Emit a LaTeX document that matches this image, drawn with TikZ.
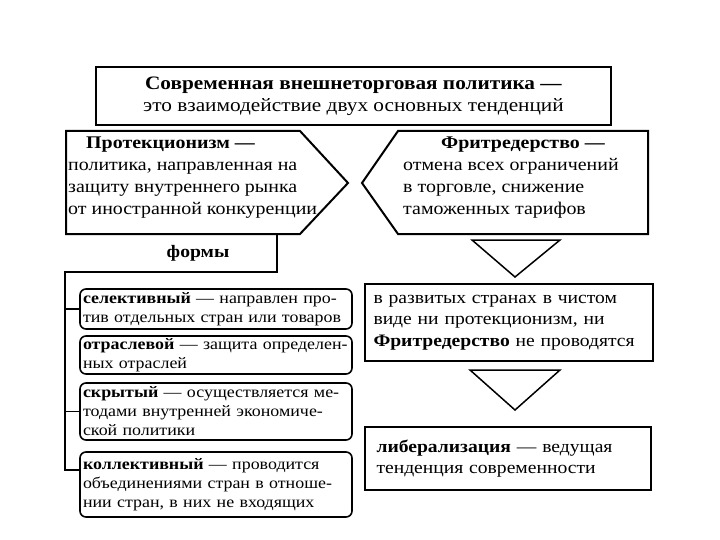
\documentclass[tikz,border=0pt]{standalone}
\usepackage{fontspec}
\setmainfont[FakeStretch=1.12]{Liberation Serif}
\begin{document}
\begin{tikzpicture}[x=1pt,y=-1pt,
  bigbox/.style={draw, line width=2.5pt, inner sep=0pt},
  plainbox/.style={draw, line width=2pt, inner sep=0pt},
  formbox/.style={draw, line width=1.6pt, rounded corners=6pt, inner xsep=3pt, inner ysep=0pt,
     minimum width=272pt, text width=266pt, align=left, font=\fontsize{16}{19}\selectfont},
  shapeline/.style={line width=2pt, line join=miter},
  tri/.style={line width=1.5pt},
  tree/.style={line width=1.5pt},
  txt/.style={inner sep=0pt, align=left}]
\fill[white] (0,0) rectangle (720,540);
\useasboundingbox (0,0) rectangle (720,540);

% top box
\node[bigbox, minimum width=515pt, minimum height=58pt, align=center,
  font=\fontsize{19}{22}\selectfont] (top) at (353.5,96)
  {\textbf{Современная внешнеторговая политика —}\\это взаимодействие двух основных тенденций};

% protectionism pentagon
\draw[shapeline] (66,131) -- (300,131) -- (348,183) -- (300,234) -- (66,234) -- cycle;
\node[txt, anchor=west, font=\fontsize{17.8}{22}\selectfont] (prot) at (68,178)
  {\hspace*{18pt}\textbf{Протекционизм —}\\политика, направленная на\\защиту внутреннего рынка\\от иностранной конкуренции};

% free trade pentagon
\draw[shapeline] (398,131) -- (648,131) -- (648,234) -- (398,234) -- (362,183) -- cycle;
\node[txt, anchor=west, font=\fontsize{17.8}{22}\selectfont] (free) at (403,178)
  {\hspace*{38pt}\textbf{Фритредерство —}\\отмена всех ограничений\\в торговле, снижение\\таможенных тарифов};

% forms label and tree
\node[txt, font=\fontsize{17.5}{20}\selectfont\bfseries] (formy) at (198,253) {формы};
\coordinate (fr) at (277,234);
\coordinate (fc) at (277,272);
\coordinate (tl) at (65,272);
\coordinate (tb) at (65,470);

\node[formbox, minimum height=40pt] (f1) at (216,309)
  {\textbf{селективный} — направлен про-\\тив отдельных стран или товаров};
\node[formbox, minimum height=38pt] (f2) at (216,355)
  {\textbf{отраслевой} — защита определен-\\ных отраслей};
\node[formbox, minimum height=57pt] (f3) at (216,411.5)
  {\textbf{скрытый} — осуществляется ме-\\тодами внутренней экономиче-\\ской политики};
\node[formbox, minimum height=65pt] (f4) at (216,484.5)
  {\textbf{коллективный} — проводится\\объединениями стран в отноше-\\нии стран, в них не входящих};

\draw[tree] (fr) -- (fc) -- (tl) -- (tb) -- (tb -| f4.west);
\draw[tree] (tl |- f1.west) -- (f1.west);
\draw[tree] (tl |- f3.west) -- (f3.west);

% right column
\node[plainbox, minimum width=287pt, minimum height=77pt, text width=270pt, align=left,
  inner xsep=9pt, font=\fontsize{17.5}{21.5}\selectfont] (dev) at (508.5,322.5)
  {в развитых странах в чистом\\виде ни протекционизм, ни\\\textbf{Фритредерство} не проводятся};
\node[plainbox, minimum width=285pt, minimum height=63pt, text width=262pt, align=left,
  inner xsep=12pt, font=\fontsize{17.5}{21}\selectfont] (lib) at (507.5,458.5)
  {\textbf{либерализация} — ведущая\\тенденция современности};

% triangles
\draw[tri] (472,240) -- (560,240) -- (515,277) -- cycle;
\draw[tri] (470,370) -- (560,370) -- (515,410) -- cycle;
\end{tikzpicture}
\end{document}
